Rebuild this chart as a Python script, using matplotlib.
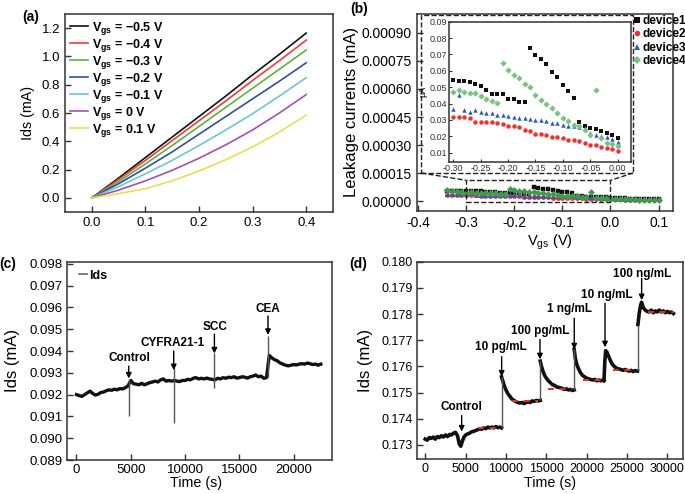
import numpy as np
import matplotlib
matplotlib.use("Agg")
import matplotlib.pyplot as plt
from matplotlib.lines import Line2D
from matplotlib.patches import Rectangle

plt.rcParams['font.family'] = ['Liberation Sans', 'DejaVu Sans']
plt.rcParams['mathtext.fontset'] = 'custom'
plt.rcParams['mathtext.rm'] = 'Liberation Sans'
plt.rcParams['mathtext.bf'] = 'Liberation Sans:bold'
plt.rcParams['mathtext.it'] = 'Liberation Sans:italic'

# ---------------- data (a) ----------------
vds_a = [0.0, 0.05, 0.10, 0.15, 0.20, 0.25, 0.30, 0.35, 0.40]
ids_m05 = [0, 0.140, 0.285, 0.430, 0.575, 0.720, 0.870, 1.015, 1.165]
ids_m04 = [0, 0.130, 0.265, 0.405, 0.545, 0.685, 0.830, 0.970, 1.115]
ids_m03 = [0, 0.115, 0.240, 0.370, 0.505, 0.640, 0.775, 0.910, 1.045]
ids_m02 = [0, 0.100, 0.210, 0.325, 0.450, 0.575, 0.700, 0.825, 0.955]
ids_m01 = [0, 0.080, 0.170, 0.265, 0.370, 0.480, 0.595, 0.720, 0.850]
ids_p00 = [0, 0.055, 0.120, 0.195, 0.280, 0.375, 0.480, 0.600, 0.730]
ids_p01 = [0, 0.030, 0.065, 0.120, 0.190, 0.270, 0.360, 0.465, 0.585]
labels_a = [r'$\mathbf{V_{gs}}$ = −0.5 V', r'$\mathbf{V_{gs}}$ = −0.4 V',
            r'$\mathbf{V_{gs}}$ = −0.3 V', r'$\mathbf{V_{gs}}$ = −0.2 V',
            r'$\mathbf{V_{gs}}$ = −0.1 V', r'$\mathbf{V_{gs}}$ = 0 V',
            r'$\mathbf{V_{gs}}$ = 0.1 V']
colors_a = ['#111111', '#ee3b3b', '#5cb33c', '#2f4fa3', '#6cc6d8', '#a450b0', '#e8e050']

# ---------------- data (b) ----------------
vgs_b = [-0.34, -0.33, -0.32, -0.31, -0.30, -0.29, -0.28, -0.27, -0.26, -0.25,
         -0.24, -0.23, -0.22, -0.21, -0.20, -0.19, -0.18, -0.17, -0.16, -0.15,
         -0.14, -0.13, -0.12, -0.11, -0.10, -0.09, -0.08, -0.07, -0.06, -0.05,
         -0.04, -0.03, -0.02, -0.01, 0.00, 0.01, 0.02, 0.03, 0.04, 0.05,
         0.06, 0.07, 0.08, 0.09, 0.10]
# leakage currents in uA
dev1 = [0.056, 0.055, 0.055, 0.055, 0.0545, 0.054, 0.054, 0.053, 0.052, 0.051,
        0.048, 0.046, 0.046, 0.046, 0.043, 0.043, 0.041, 0.041, 0.074, 0.0695,
        0.0675, 0.064, 0.059, 0.056, 0.0515, 0.0475, 0.0435, 0.029, 0.0265, 0.025,
        0.0245, 0.0235, 0.022, 0.021, 0.019, 0.018, 0.017, 0.016, 0.015, 0.015,
        0.014, 0.014, 0.013, 0.013, 0.013]
dev2 = [0.033, 0.033, 0.032, 0.032, 0.032, 0.0315, 0.0315, 0.031, 0.029, 0.029,
        0.029, 0.0285, 0.028, 0.0275, 0.026, 0.026, 0.0255, 0.024, 0.0235, 0.0215,
        0.0215, 0.021, 0.0195, 0.0195, 0.019, 0.018, 0.0175, 0.017, 0.016, 0.015,
        0.0145, 0.0135, 0.013, 0.012, 0.011, 0.010, 0.010, 0.009, 0.009, 0.008,
        0.008, 0.008, 0.007, 0.007, 0.007]
dev3 = [0.040, 0.038, 0.038, 0.037, 0.0365, 0.045, 0.036, 0.035, 0.036, 0.035,
        0.0345, 0.034, 0.033, 0.033, 0.0325, 0.032, 0.031, 0.031, 0.0305, 0.030,
        0.030, 0.0295, 0.028, 0.028, 0.027, 0.0265, 0.026, 0.0255, 0.025, 0.022,
        0.021, 0.0205, 0.0195, 0.0185, 0.0165, 0.015, 0.014, 0.013, 0.013, 0.012,
        0.012, 0.011, 0.011, 0.011, 0.010]
dev4 = [0.058, 0.056, 0.055, 0.050, 0.047, 0.048, 0.047, 0.0465, 0.0465, 0.0445,
        0.043, 0.0415, 0.0405, 0.065, 0.0605, 0.0575, 0.0555, 0.052, 0.050, 0.0455,
        0.042, 0.040, 0.037, 0.034, 0.031, 0.0295, 0.027, 0.0265, 0.024, 0.021,
        0.048, 0.019, 0.016, 0.0155, 0.014, 0.013, 0.012, 0.011, 0.010, 0.010,
        0.009, 0.009, 0.008, 0.008, 0.008]
dev_labels = ['device1', 'device2', 'device3', 'device4']

# ---------------- data (c) ----------------
time_c = list(range(0, 22501, 250))
ids_c = [0.09200, 0.09196, 0.09192, 0.09200, 0.09208, 0.09216, 0.09205, 0.09198,
         0.09202, 0.09210, 0.09212, 0.09218, 0.09222, 0.09220, 0.09225, 0.09222,
         0.09228, 0.09226, 0.09232, 0.09240, 0.09265, 0.09250, 0.09248, 0.09245,
         0.09252, 0.09245, 0.09250, 0.09255, 0.09258, 0.09262, 0.09258, 0.09268,
         0.09272, 0.09262, 0.09265, 0.09262, 0.09265, 0.09262, 0.09260, 0.09265,
         0.09265, 0.09270, 0.09268, 0.09275, 0.09278, 0.09272, 0.09275, 0.09272,
         0.09276, 0.09272, 0.09270, 0.09268, 0.09275, 0.09272, 0.09278, 0.09275,
         0.09280, 0.09278, 0.09282, 0.09276, 0.09278, 0.09282, 0.09280, 0.09276,
         0.09282, 0.09285, 0.09290, 0.09282, 0.09285, 0.09275, 0.09278, 0.09380,
         0.09368, 0.09360, 0.09355, 0.09345, 0.09340, 0.09335, 0.09332, 0.09335,
         0.09338, 0.09336, 0.09340, 0.09342, 0.09340, 0.09345, 0.09342, 0.09338,
         0.09340, 0.09335, 0.09340]
spike_t_c = [4820, 9000, 12700, 17620]
spike_lo_c = [0.0910, 0.0907, 0.0923, 0.0928]
spike_hi_c = [0.0927, 0.0932, 0.0939, 0.0947]
events_c = ['Control', 'CYFRA21-1', 'SCC', 'CEA']
event_t_c = [4813, 8955, 12700, 17633]
event_tip_c = [0.09274, 0.09312, 0.09389, 0.09474]

# ---------------- data (d) ----------------
seg_t_d = [
    [0, 250, 500, 750, 1000, 1250, 1500, 1750, 2000, 2250, 2500, 2750, 3000, 3250,
     3500, 3750, 4000, 4200, 4400, 4600, 4800, 5000, 5250, 5500, 5750, 6000, 6250,
     6500, 6750, 7000, 7250, 7500, 7750, 8000, 8250, 8500, 8750, 9000, 9250, 9450],
    [9450, 9600, 9800, 10000, 10250, 10500, 10750, 11000, 11250, 11500, 11750, 12000,
     12250, 12500, 12750, 13000, 13250, 13500, 13750, 14000, 14250],
    [14250, 14400, 14600, 14800, 15000, 15250, 15500, 15750, 16000, 16250, 16500,
     16750, 17000, 17250, 17500, 17750, 18000, 18250, 18450],
    [18450, 18600, 18800, 19000, 19250, 19500, 19750, 20000, 20250, 20500, 20750,
     21000, 21250, 21500, 21750, 22000, 22150],
    [22150, 22250, 22350, 22500, 22700, 23000, 23250, 23500, 23750, 24000, 24250,
     24500, 24750, 25000, 25250, 25500, 25750, 26000, 26300],
    [26350, 26500, 26650, 26800, 27000, 27250, 27500, 27750, 28000, 28250, 28500,
     28750, 29000, 29250, 29500, 29750, 30000, 30250, 30500, 30750],
]
seg_v_d = [
    [0.17322, 0.17318, 0.17328, 0.17325, 0.17330, 0.17322, 0.17332, 0.17328, 0.17335,
     0.17330, 0.17338, 0.17332, 0.17340, 0.17338, 0.17345, 0.17348, 0.17335, 0.17305,
     0.17295, 0.17315, 0.17330, 0.17338, 0.17342, 0.17345, 0.17350, 0.17352, 0.17355,
     0.17358, 0.17362, 0.17360, 0.17365, 0.17362, 0.17368, 0.17365, 0.17368, 0.17365,
     0.17370, 0.17366, 0.17368, 0.17365],
    [0.17560, 0.17545, 0.17525, 0.17510, 0.17495, 0.17485, 0.17475, 0.17470, 0.17465,
     0.17462, 0.17460, 0.17462, 0.17458, 0.17462, 0.17465, 0.17462, 0.17468, 0.17466,
     0.17470, 0.17468, 0.17470],
    [0.17620, 0.17600, 0.17580, 0.17565, 0.17555, 0.17545, 0.17538, 0.17530, 0.17528,
     0.17522, 0.17520, 0.17518, 0.17515, 0.17512, 0.17514, 0.17510, 0.17512, 0.17508,
     0.17510],
    [0.17665, 0.17630, 0.17605, 0.17590, 0.17575, 0.17565, 0.17560, 0.17555, 0.17552,
     0.17550, 0.17548, 0.17550, 0.17545, 0.17548, 0.17545, 0.17548, 0.17545],
    [0.17550, 0.17620, 0.17660, 0.17655, 0.17640, 0.17618, 0.17605, 0.17598, 0.17592,
     0.17590, 0.17588, 0.17585, 0.17588, 0.17585, 0.17582, 0.17585, 0.17580, 0.17584,
     0.17582],
    [0.17760, 0.17800, 0.17830, 0.17845, 0.17825, 0.17815, 0.17810, 0.17808, 0.17815,
     0.17805, 0.17812, 0.17808, 0.17815, 0.17808, 0.17812, 0.17805, 0.17810, 0.17805,
     0.17808, 0.17802],
]
jump_t_d = [9450, 14250, 18450, 26330]
jump_lo_d = [0.17365, 0.17470, 0.17510, 0.17582]
jump_hi_d = [0.17560, 0.17620, 0.17665, 0.17760]
fit_t0_d = [6500, 10800, 15200, 19500, 23200, 27600]
fit_t1_d = [9200, 14000, 18200, 22000, 26000, 30800]
fit_v_d = [0.17363, 0.17468, 0.17515, 0.17548, 0.17585, 0.17808]
events_d = ['Control', '10 pg/mL', '100 pg/mL', '1 ng/mL', '10 ng/mL', '100 ng/mL']
event_t_d = [4510, 9465, 14210, 18460, 22270, 26810]
event_tip_d = [0.17351, 0.17561, 0.17627, 0.17665, 0.17673, 0.17853]
event_arrow_top_d = [0.17412, 0.17637, 0.17703, 0.17784, 0.17841, 0.17936]
event_text_t_d = [4510, 9380, 14210, 17930, 22480, 26810]
event_text_v_d = [0.17444, 0.17673, 0.17736, 0.17818, 0.17873, 0.17953]

# ---------------- figure ----------------
W, H = 685, 494
fig = plt.figure(figsize=(W / 100, H / 100), dpi=100)


def axes_px(l, t, r, b):
    return fig.add_axes([l / W, 1 - b / H, (r - l) / W, (b - t) / H])


def style(ax, size=9, pad=3.5):
    for s in ax.spines.values():
        s.set_color('#333333')
        s.set_linewidth(1.1)
    ax.tick_params(direction='in', length=4, width=1, labelsize=size, pad=pad,
                   color='#333333')


# (a)
axa = axes_px(65, 14, 333, 212)
for ys, c, lab in zip([ids_m05, ids_m04, ids_m03, ids_m02, ids_m01, ids_p00, ids_p01],
                      colors_a, labels_a):
    axa.plot(vds_a, ys, color=c, lw=1.2, label=lab)
axa.set_xlim(-0.05, 0.45)
axa.set_ylim(-0.1, 1.3)
axa.set_xticks([0.0, 0.1, 0.2, 0.3, 0.4])
axa.set_yticks([0.0, 0.2, 0.4, 0.6, 0.8, 1.0, 1.2])
axa.xaxis.set_major_formatter(matplotlib.ticker.FormatStrFormatter('%.1f'))
axa.yaxis.set_major_formatter(matplotlib.ticker.FormatStrFormatter('%.1f'))
style(axa, 9.5)
axa.set_ylabel('Ids (mA)', fontsize=10.3)
axa.yaxis.set_label_coords(-0.112, 0.5)
axa.legend(loc='upper left', bbox_to_anchor=(0.02, 0.97), frameon=False,
           prop={'weight': 'bold', 'size': 9}, handlelength=1.4, handletextpad=0.3,
           labelspacing=0.0, borderaxespad=0, borderpad=0)

# (b)
axb = axes_px(416.7, 14, 673, 210.7)
mk = ['s', 'o', '^', 'D']
cols_b = ['#111111', '#ee2c2c', '#2a5cb8', '#3f9a4a']
cols_in = ['#111111', '#f03030', '#2a5cb8', '#7cc383']
for d, m, c in zip([dev1, dev2, dev3, dev4], mk, cols_b):
    axb.plot(vgs_b, np.array(d) * 1e-3, ls='none', marker=m, ms=3.2, color=c,
             mec=c, mew=0.3)
axb.set_xlim(-0.403, 0.13)
axb.set_ylim(-0.00005, 0.001)
axb.set_xticks([-0.4, -0.3, -0.2, -0.1, 0.0, 0.1])
axb.set_yticks([0, 0.00015, 0.0003, 0.00045, 0.0006, 0.00075, 0.0009])
axb.xaxis.set_major_formatter(matplotlib.ticker.FormatStrFormatter('%.1f'))
axb.yaxis.set_major_formatter(matplotlib.ticker.FormatStrFormatter('%.5f'))
style(axb, 10)
axb.set_ylabel('Leakage currents (mA)', fontsize=12)
axb.yaxis.set_label_coords(-0.225, 0.5)
axb.set_xlabel(r'V$_{\rm gs}$ (V)', fontsize=10.5)
axb.xaxis.set_label_coords(0.52, -0.11)
# zoom rectangle and dashed box
axb.add_patch(Rectangle((-0.3, -0.000003), 0.3, 0.000115, fill=False, ls='--',
                        lw=1.0, color='#222222', zorder=3))
axb.add_patch(Rectangle((0.017, 0.192), 0.828, 0.803, transform=axb.transAxes,
                        fill=False, ls='--', lw=1.0, color='#222222', zorder=3))
fig.canvas.draw()
to_ax = axb.transAxes.inverted()
pL = to_ax.transform(axb.transData.transform((-0.3, 0.000112)))
pR = to_ax.transform(axb.transData.transform((0.0, 0.000112)))
axb.plot([0.017, pL[0]], [0.192, pL[1]], transform=axb.transAxes, ls='--', lw=1.0,
         color='#222222')
axb.plot([0.845, pR[0]], [0.192, pR[1]], transform=axb.transAxes, ls='--', lw=1.0,
         color='#222222')

# inset
axi = axes_px(449.3, 21.7, 631, 161.7)
for d, m, c in zip([dev1, dev2, dev3, dev4], mk, cols_in):
    xs = [v for v in vgs_b if -0.305 < v < 0.005]
    ys = [y for v, y in zip(vgs_b, d) if -0.305 < v < 0.005]
    axi.plot(xs, ys, ls='none', marker=m, ms=3.2, color=c, mew=0)
axi.set_xlim(-0.307, 0.024)
axi.set_ylim(0.0045, 0.09)
axi.set_xticks([-0.30, -0.25, -0.20, -0.15, -0.10, -0.05, 0.00])
axi.set_yticks([0.01, 0.02, 0.03, 0.04, 0.05, 0.06, 0.07, 0.08, 0.09])
axi.xaxis.set_major_formatter(matplotlib.ticker.FormatStrFormatter('%.2f'))
axi.yaxis.set_major_formatter(matplotlib.ticker.FormatStrFormatter('%.2f'))
for s in axi.spines.values():
    s.set_color('#333333')
    s.set_linewidth(1.1)
axi.tick_params(direction='in', length=2.5, width=0.8, labelsize=6.5, pad=1.5,
                colors='#333333')
axi.set_ylabel('µA', fontsize=6.5, labelpad=0)
axi.yaxis.set_label_coords(-0.12, 0.5)

handles = [Line2D([], [], ls='none', marker=m, ms=4, color=c, mew=0)
           for m, c in zip(mk, cols_in)]
fig.legend(handles, dev_labels, loc='upper left', bbox_to_anchor=(633 / W, 1 - 15 / H),
           frameon=False, prop={'weight': 'bold', 'size': 8.5}, handlelength=0.6,
           handletextpad=0.2, labelspacing=0.12, borderpad=0, borderaxespad=0)

# (c)
axc = axes_px(66.7, 261.7, 331.7, 460)
axc.plot(time_c, ids_c, color='#111111', lw=2.4)
axc.vlines(spike_t_c, spike_lo_c, spike_hi_c, color='#555555', lw=1.0)
axc.set_xlim(-900, 23500)
axc.set_ylim(0.089, 0.0981)
axc.set_xticks([0, 5000, 10000, 15000, 20000])
axc.set_yticks([0.089, 0.090, 0.091, 0.092, 0.093, 0.094, 0.095, 0.096, 0.097, 0.098])
axc.yaxis.set_major_formatter(matplotlib.ticker.FormatStrFormatter('%.3f'))
style(axc, 9.5, 3)
axc.set_ylabel('Ids (mA)', fontsize=12)
axc.yaxis.set_label_coords(-0.175, 0.5)
axc.set_xlabel('Time (s)', fontsize=10.3)
axc.xaxis.set_label_coords(0.49, -0.082)
ann_c_text_y = [0.09366, 0.09435, 0.09512, 0.09594]
ann_c_text_t = [4905, 8890, 12728, 17633]
ann_c_top = [0.09331, 0.0940, 0.09478, 0.09561]
for lab, tx, ty, at, atop, tip in zip(events_c, ann_c_text_t, ann_c_text_y,
                                      event_t_c, ann_c_top, event_tip_c):
    axc.text(tx, ty, lab, ha='center', va='center', fontsize=8.5, fontweight='bold')
    axc.annotate('', xy=(at, tip), xytext=(at, atop),
                 arrowprops=dict(arrowstyle='-|>', color='black', lw=1.0,
                                 mutation_scale=8, shrinkA=0, shrinkB=0))
axc.legend([Line2D([], [], color='#666666', lw=1.2)], ['Ids'], loc='upper left',
           bbox_to_anchor=(0.045, 0.96), frameon=False,
           prop={'weight': 'bold', 'size': 9}, handlelength=0.7, handletextpad=0.15,
           borderpad=0, borderaxespad=0)

# (d)
axd = axes_px(416.7, 261.7, 683.3, 459.3)
for ts, vs in zip(seg_t_d, seg_v_d):
    axd.plot(ts, vs, color='#111111', lw=2.6)
axd.vlines(jump_t_d, jump_lo_d, jump_hi_d, color='#555555', lw=1.0)
for t0, t1, v in zip(fit_t0_d, fit_t1_d, fit_v_d):
    axd.plot([t0, t1], [v, v], color='#e0302c', lw=1.4, ls=(0, (3, 3)))
axd.set_xlim(-1060, 31970)
axd.set_ylim(0.17245, 0.1800)
axd.set_xticks([0, 5000, 10000, 15000, 20000, 25000, 30000])
axd.set_yticks([0.173, 0.174, 0.175, 0.176, 0.177, 0.178, 0.179, 0.180])
axd.yaxis.set_major_formatter(matplotlib.ticker.FormatStrFormatter('%.3f'))
style(axd, 9, 3)
axd.set_ylabel('Ids (mA)', fontsize=12)
axd.yaxis.set_label_coords(-0.165, 0.5)
axd.set_xlabel('Time (s)', fontsize=10.3)
axd.xaxis.set_label_coords(0.5, -0.085)
for lab, tx, ty, at, atop, tip in zip(events_d, event_text_t_d, event_text_v_d,
                                      event_t_d, event_arrow_top_d, event_tip_d):
    axd.text(tx, ty, lab, ha='center', va='center', fontsize=8.5, fontweight='bold')
    axd.annotate('', xy=(at, tip), xytext=(at, atop),
                 arrowprops=dict(arrowstyle='-|>', color='black', lw=1.0,
                                 mutation_scale=8, shrinkA=0, shrinkB=0))

# panel letters
for lab, x, y in [('(a)', 31, 16.7), ('(b)', 359.3, 8.5), ('(c)', 7.3, 264),
                  ('(d)', 358.3, 264)]:
    fig.text(x / W, 1 - y / H, lab, ha='center', va='center', fontsize=10,
             fontweight='bold')

fig.savefig('out.png', dpi=100)
